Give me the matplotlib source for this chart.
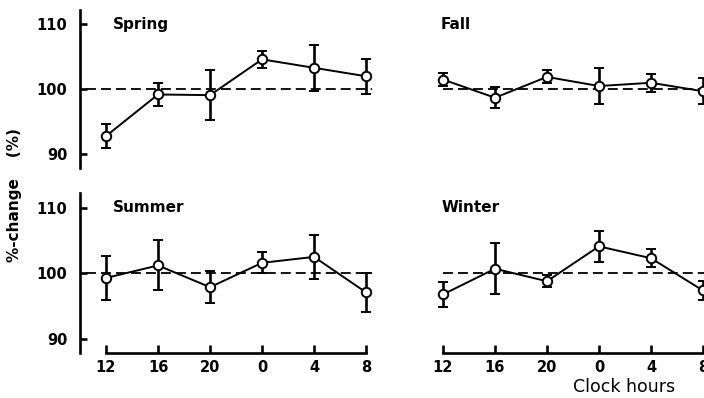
import numpy as np
import matplotlib.pyplot as plt

plt.rcParams['font.family'] = ['DejaVu Sans']

hours = ['12', '16', '20', '0', '4', '8']

spring = [92.8, 99.2, 99.1, 104.6, 103.3, 102.0]
spring_err = [1.9, 1.7, 3.8, 1.3, 3.5, 2.7]

fall = [101.5, 98.7, 101.9, 100.5, 101.0, 99.7]
fall_err = [1.0, 1.6, 1.0, 2.7, 1.4, 2.0]

summer = [99.3, 101.2, 97.9, 101.6, 102.5, 97.1]
summer_err = [3.3, 3.8, 2.4, 1.6, 3.3, 3.0]

winter = [96.8, 100.7, 98.8, 104.1, 102.3, 97.4]
winter_err = [1.9, 3.9, 0.9, 2.4, 1.4, 1.4]

fig = plt.figure(figsize=(7.04, 3.98), dpi=100)

# panel boxes in figure fractions: (left, bottom, width, height)
ax_sp = fig.add_axes([0.1136, 0.578, 0.4205, 0.397])
ax_fa = fig.add_axes([0.5923, 0.578, 0.4077, 0.397])
ax_su = fig.add_axes([0.1136, 0.113, 0.4205, 0.402])
ax_wi = fig.add_axes([0.5923, 0.113, 0.4077, 0.402])

panels = [
    (ax_sp, 'Spring', spring, spring_err, True, False),
    (ax_fa, 'Fall', fall, fall_err, False, False),
    (ax_su, 'Summer', summer, summer_err, True, True),
    (ax_wi, 'Winter', winter, winter_err, False, True),
]

x = np.arange(len(hours))

for ax, name, vals, errs, left, bottom in panels:
    ax.set_ylim(87.9, 112.2)
    if left:
        ax.set_xlim(-0.5, 5.19)
        ax.axhline(100, xmin=0.02, xmax=0.985, color='black', lw=1.3,
                   dashes=(5.5, 2.8))
    else:
        ax.set_xlim(-0.5, 5.02)
        ax.axhline(100, xmin=0.09, xmax=1.0, color='black', lw=1.3,
                   dashes=(5.5, 2.8))

    ax.errorbar(x, vals, yerr=errs, fmt='-o', color='black', lw=1.4,
                elinewidth=1.9, capsize=3.5, capthick=1.9,
                markersize=6.8, markerfacecolor='white',
                markeredgecolor='black', markeredgewidth=1.4, zorder=3)

    ax.text(0.111 if left else 0.084, 0.91, name, transform=ax.transAxes,
            fontsize=11, fontweight='bold', va='center', ha='left')

    for side in ['top', 'right']:
        ax.spines[side].set_visible(False)
    ax.spines['left'].set_visible(left)
    ax.spines['left'].set_linewidth(1.9)
    ax.spines['bottom'].set_visible(bottom)
    ax.spines['bottom'].set_linewidth(1.9)
    ax.spines['bottom'].set_bounds(0, 5)

    if left:
        ax.set_yticks([90, 100, 110])
        ax.tick_params(axis='y', direction='in', length=5, width=1.9,
                       labelsize=10.5, pad=9)
        for t in ax.get_yticklabels():
            t.set_fontweight('bold')
    else:
        ax.set_yticks([])

    if bottom:
        ax.set_xticks(x)
        ax.set_xticklabels(hours, fontsize=10.5, fontweight='bold')
        ax.tick_params(axis='x', direction='in', length=6, width=1.9, pad=5)
    else:
        ax.set_xticks([])

    ax.patch.set_visible(False)

fig.text(0.02, 0.51, '%-change    (%)', rotation=90, fontsize=11,
         fontweight='bold', ha='center', va='center')
fig.text(0.886, 0.028, 'Clock hours', fontsize=12.5, ha='center',
         va='center')

fig.savefig('out.png', dpi=100)
